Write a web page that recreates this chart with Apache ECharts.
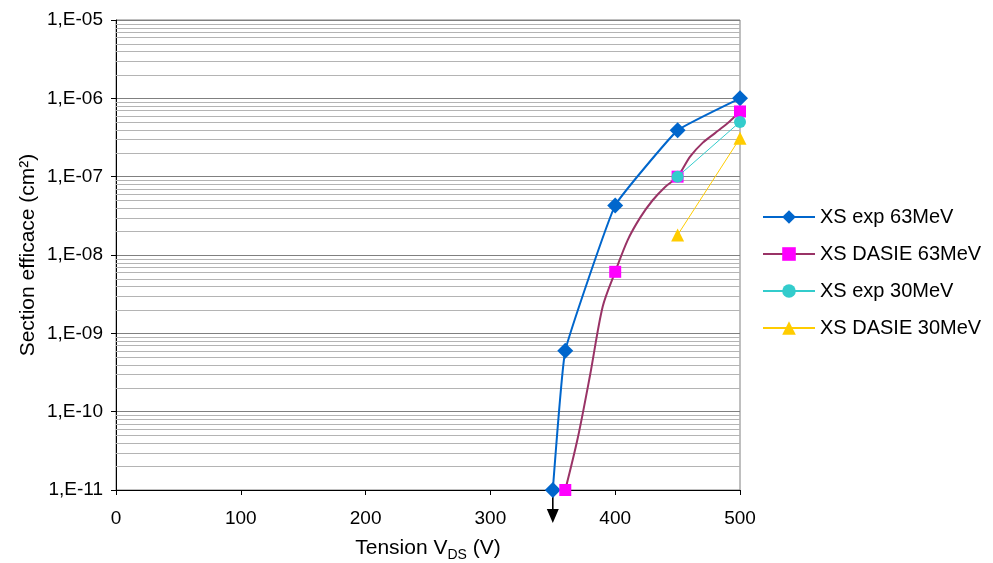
<!DOCTYPE html>
<html><head><meta charset="utf-8">
<script src="https://cdn.jsdelivr.net/npm/echarts@6/dist/echarts.min.js"></script>
<style>html,body{margin:0;padding:0;background:#fff}#c{width:993px;height:563px}</style>
</head><body><div id="c"></div>
<script>
// Data
const vExp63 = [350, 360, 400, 450, 500];
const xsExp63 = [1e-11, 6.0e-10, 4.3e-8, 3.9e-7, 1.0e-6];
const vDasie63 = [360, 370, 380, 390, 400, 410, 420, 430, 440, 450, 460, 470, 480, 490, 500];
const xsDasie63 = [1e-11, 4.6e-11, 3.0e-10, 2.2e-9, 6.1e-9, 1.55e-8, 3.0e-8, 5.0e-8, 7.4e-8, 1.0e-7, 1.8e-7, 2.7e-7, 3.6e-7, 4.8e-7, 6.8e-7];
const dasie63MarkerV = [360, 400, 450, 500];
const vExp30 = [450, 500];
const xsExp30 = [1.0e-7, 5.0e-7];
const vDasie30 = [450, 500];
const xsDasie30 = [1.8e-8, 3.1e-7];
const xTicks = [0, 100, 200, 300, 400, 500];
const yDecades = [-11, -10, -9, -8, -7, -6, -5];
const arrowAtV = 350;
const arrowAtXs = 1e-11;

const font = 'Liberation Sans, Arial, sans-serif';
const pairs = (xs, ys) => xs.map((x, i) => [x, ys[i]]);

const minorVals = [];
for (let d = yDecades[0]; d < yDecades[yDecades.length - 1]; d++) {
  for (let m = 2; m <= 9; m++) minorVals.push([xTicks[0], m * Math.pow(10, d)]);
}

const chart = echarts.init(document.getElementById('c'));
chart.setOption({
  animation: false,
  textStyle: { fontFamily: font },
  grid: { left: 116, right: 253, top: 20, bottom: 73, show: true, borderColor: '#808080', borderWidth: 1, outerBoundsMode: 'none', containLabel: false },
  legend: {
    orient: 'vertical', left: 757, top: 202,
    itemWidth: 52, itemHeight: 17, itemGap: 17,
    textStyle: { fontFamily: font, fontSize: 20, color: '#000' },
    data: ['XS exp 63MeV', 'XS DASIE 63MeV', 'XS exp 30MeV', 'XS DASIE 30MeV']
  },
  xAxis: {
    type: 'value', min: xTicks[0], max: xTicks[xTicks.length - 1], interval: 100,
    name: '{a|Tension V}{b|DS}{a| (V)}', nameLocation: 'middle', nameGap: 46, nameMoveOverlap: false,
    nameTextStyle: { rich: { a: { fontSize: 21, lineHeight: 24, color: '#000', fontFamily: font }, b: { fontSize: 14, lineHeight: 14, color: '#000', fontFamily: font, padding: [14, 0, 0, 0] } } },
    axisLine: { lineStyle: { color: '#000', width: 1 } },
    axisTick: { show: true, inside: false, length: 5, lineStyle: { color: '#000' } },
    axisLabel: { fontSize: 19, color: '#000', margin: 19, fontFamily: font },
    splitLine: { show: false }
  },
  yAxis: {
    type: 'log', logBase: 10, min: Math.pow(10, yDecades[0]), max: Math.pow(10, yDecades[yDecades.length - 1]), interval: 1,
    name: 'Section efficace (cm²)', nameLocation: 'middle', nameGap: 77, nameMoveOverlap: false,
    nameTextStyle: { fontSize: 21, color: '#000', fontFamily: font },
    axisLine: { show: true, lineStyle: { color: '#000', width: 1 } },
    axisTick: { show: true, inside: false, length: 5, lineStyle: { color: '#000' } },
    axisLabel: {
      fontSize: 19, color: '#000', margin: 13, fontFamily: font,
      formatter: v => { const e = Math.round(Math.log10(v)); const a = Math.abs(e); return '1,E' + (e < 0 ? '-' : '+') + (a < 10 ? '0' + a : a); }
    },
    splitLine: { show: true, lineStyle: { color: '#808080', width: 1 } },
    minorTick: { show: false }, minorSplitLine: { show: false }
  },
  series: [
    {
      name: 'minor grid', type: 'custom', z: 1, silent: true,
      data: minorVals, encode: { x: 0, y: 1 },
      renderItem: (params, api) => {
        const y = Math.round(api.coord([api.value(0), api.value(1)])[1]) + 0.5;
        const cs = params.coordSys;
        return { type: 'line', shape: { x1: cs.x, y1: y, x2: cs.x + cs.width, y2: y }, style: { stroke: '#b4b4b4', lineWidth: 1 } };
      }
    },
    {
      name: 'XS exp 63MeV', type: 'line', z: 5, smooth: 0.1,
      data: pairs(vExp63, xsExp63),
      symbol: 'diamond', symbolSize: 16,
      lineStyle: { color: '#0066CC', width: 2 }, itemStyle: { color: '#0066CC' },
      markPoint: {
        silent: true, z: 3, animation: false,
        symbol: 'path://M5.2,0 L6.8,0 L6.8,19 L12,19 L6,33 L0,19 L5.2,19 Z',
        symbolSize: [12, 33], symbolOffset: [0, 16.5],
        itemStyle: { color: '#000' }, label: { show: false },
        data: [{ coord: [arrowAtV, arrowAtXs] }]
      }
    },
    {
      name: 'XS DASIE 63MeV', type: 'line', z: 6, smooth: 0.3,
      data: vDasie63.map((v, i) => dasie63MarkerV.includes(v) ? [v, xsDasie63[i]] : { value: [v, xsDasie63[i]], symbol: 'none' }),
      symbol: 'rect', symbolSize: 12,
      lineStyle: { color: '#993366', width: 2 }, itemStyle: { color: '#FF00FF' }
    },
    {
      name: 'XS exp 30MeV', type: 'line', z: 7,
      data: pairs(vExp30, xsExp30),
      symbol: 'circle', symbolSize: 12,
      lineStyle: { color: '#33CCCC', width: 1 }, itemStyle: { color: '#33CCCC' }
    },
    {
      name: 'XS DASIE 30MeV', type: 'line', z: 8,
      data: pairs(vDasie30, xsDasie30),
      symbol: 'triangle', symbolSize: 13,
      lineStyle: { color: '#FFCC00', width: 1 }, itemStyle: { color: '#FFCC00' }
    }
  ]
});
</script></body></html>
